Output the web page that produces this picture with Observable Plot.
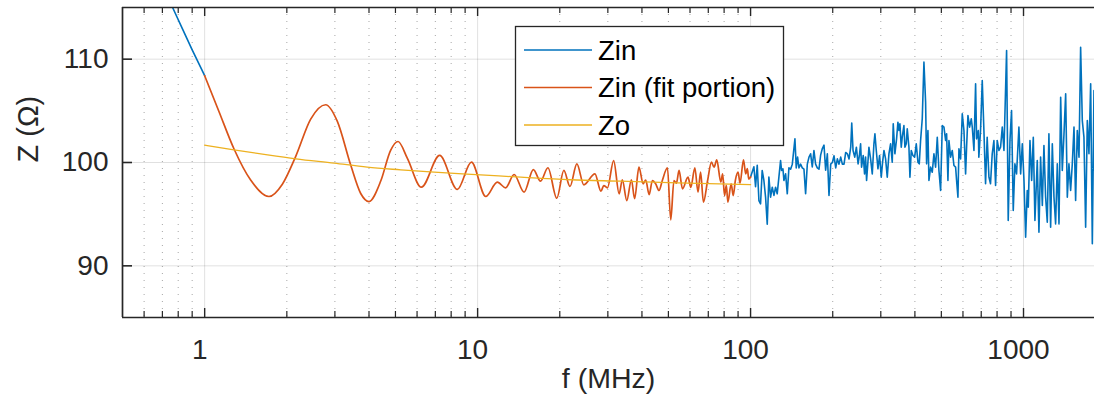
<!DOCTYPE html>
<html><head><meta charset="utf-8">
<script src="https://cdn.jsdelivr.net/npm/d3@7"></script>
<script src="https://cdn.jsdelivr.net/npm/@observablehq/plot@0.6"></script>
<style>html,body{margin:0;padding:0;background:#fff}svg{display:block}</style>
</head><body><div id="chart"></div>
<script>
// ---------- data ----------
const xMajor = [1, 10, 100, 1000];
const xMinor = [0.6,0.7,0.8,0.9, 2,3,4,5,6,7,8,9, 20,30,40,50,60,70,80,90, 200,300,400,500,600,700,800,900];
const yTicks = [90, 100, 110];
const xDomain = [0.5, 1820];
const yDomain = [85, 115];
const legendLabels = ["Zin", "Zin (fit portion)", "Zo"];
const xLabel = "f (MHz)";
const yLabel = "Z (\u03A9)";

// Zin below 1 MHz
const zinLowF = [0.5, 0.6, 0.7, 0.763, 0.83, 0.9, 1.0];
const zinLowV = [125.4, 120.9, 117.1, 115.0, 112.9, 110.9, 108.4];

// Zin fit portion 1..100 MHz
const fitF = [1.0,1.128,1.28,1.474,1.72,1.926,2.156,2.446,2.776,3.06,3.428,3.73,4.0,4.42,4.8,5.11,5.53,6.22,7.26,8.43,9.49,
  10.71,11.81,12.67,13.6,14.8,16.0,17.0,18.1,19.5,20.7,21.8,23.1,24.5,26.9,28.3,29.0,29.9,31.5,33.0,33.9,35.2,36.6,37.6,39.0,
  40.4,41.3,42.5,43.7,44.9,46.2,47.5,49.6,51.0,52.4,53.5,54.7,56.3,59.0,60.4,62.5,64.2,65.6,67.2,69.6,71.9,73.5,75.2,77.8,
  79.0,80.3,81.5,82.6,84.9,86.4,88.0,90.0,91.5,94.2,96.0,97.3,98.5,100];
const fitV = [108.4,104.94,101.33,98.3,96.71,97.9,100.6,104.2,105.59,104.0,99.75,97.0,96.22,98.23,101.17,102.03,100.4,97.61,100.68,97.39,100.03,
  96.71,98.1,97.55,98.84,97.13,99.32,98.19,99.49,96.54,99.23,97.68,99.87,97.84,98.9,97.22,97.77,97.55,100.19,96.97,98.33,96.32,98.33,96.49,99.55,
  97.94,98.3,96.9,98.26,97.94,97.29,98.26,99.49,94.45,98.26,98.0,99.23,97.45,98.58,97.6,99.49,97.13,99.06,96.16,98.26,100.03,99.55,100.26,98.1,
  98.9,96.8,97.8,96.16,97.94,96.8,98.3,99.06,98.0,100.26,98.9,99.4,98.4,98.6];

// Zin above 100 MHz
const zinHighF = [102.85,104.3,105.8,107.3,108.8,110.3,111.9,113.5,115.1,116.7,118.4,120.1,121.8,123.5,125.2,127.0,128.8,129.9,131.4,132.5,
  134.4,136.3,138.2,140.2,142.2,145.4,147.0,148.7,150.4,152.5,154.7,156.9,159.1,161.4,163.7,166.0,168.3,170.7,173.1,175.6,178.1,180.6,
  183.2,185.8,188.4,191.1,193.8,196.6,199.4,202.2,205.1,208.0,210.9,213.9,216.9,220.0,223.1,226.3,229.5,232.8,234.8,237.4,240.8,244.2,
  247.7,250.5,253.0,255.1,258.7,261.6,263.9,266.1,269.1,271.4,275.3,279.2,283.1,285.5,288.8,292.9,297.0,301.2,304.6,308.1,312.4,316.8,
  321.3,325.8,330.4,333.2,337.9,342.7,346.6,349.5,352.5,356.5,359.5,364.6,367.7,371.9,375.0,380.4,383.6,387.9,393.4,399.1,404.6,410.4,
  415.0,419.7,425.6,431.7,437.8,441.5,446.5,450.3,456.7,463.1,469.7,476.3,483.1,489.9,496.9,503.9,511.1,518.3,522.7,528.6,533.1,540.6,
  548.3,556.0,563.9,568.6,575.1,580.0,588.2,596.5,605.0,613.5,618.7,625.7,634.6,643.6,649.1,658.3,667.5,673,683,686,696,706,716,726,736,
  747,757,768,779,790,801,813,824,836,848,867,879,892,904,917,930,943,962,976,990,1004,1018,1032,1041,1056,1071,1086,1101,1123,1139,1155,
  1172,1188,1205,1222,1239,1257,1275,1293,1311,1330,1349,1368,1387,1407,1427,1447,1467,1488,1509,1531,1552,1574,1597,1619,1642,1665,1689,
  1713,1737,1762,1787,1812,1822];
const zinHighV = [99.58,97.65,99.74,96.32,96.0,99.23,98.26,96.65,94.03,98.58,96.65,97.61,96.81,97.61,96.97,98.58,100.19,99.23,99.39,98.26,
  98.9,96.97,99.48,99.35,99.84,102.29,99.48,100.52,99.48,99.84,99.48,99.35,96.97,99.84,100.52,100.84,99.58,101.16,99.84,99.48,99.35,100.71,
  101.35,101.68,99.26,100.84,96.81,99.84,100.0,100.65,99.48,100.35,99.84,100.52,99.84,99.84,100.97,100.84,100.35,101.48,103.81,101.16,100.52,101.48,
  99.87,100.68,101.81,99.55,100.68,98.9,100.52,98.26,100.03,101.48,100.35,98.9,101.81,102.77,101.16,99.39,100.68,98.58,100.03,101.16,100.35,98.58,
  100.84,101.81,100.03,103.74,100.84,102.29,103.9,103.1,103.74,101.48,102.45,103.58,101.48,101.81,103.26,101.48,98.58,101.16,100.68,100.52,101.81,100.03,
  99.87,102.13,104.23,109.71,105.84,99.87,103.1,98.26,99.55,99.06,100.84,99.55,102.45,99.23,97.29,103.58,103.42,102.13,102.77,98.26,102.13,100.52,
  101.16,99.71,99.55,98.26,96.65,101.32,100.35,104.71,103.1,98.9,101.48,104.55,103.42,104.23,103.42,101.16,107.61,102.29,103.1,100.52,103.1,107.94,103.1,97.94,102.45,
  98.58,97.94,100.84,102.13,97.77,102.13,101.16,101.48,103.42,101.16,110.84,94.39,102.13,105.03,95.35,99.87,98.9,103.42,98.9,101.81,98.26,92.77,97.29,95.68,102.13,98.26,102.45,94.39,100.19,93.26,100.52,
  95.84,101.65,96.65,94.23,102.77,93.74,101.81,96.65,94.06,99.87,94.06,106.32,99.23,102.77,106.65,96.65,99.87,97.29,99.87,103.42,96.32,103.1,100.52,111.16,104.06,102.45,93.74,
  104.06,100.84,107.61,92.13,106.97,99.23];

// Zo fit
const zoF = [1, 1.28, 1.7, 2.16, 2.98, 3.94, 5.23, 6.93, 10.26, 14.4, 21.9, 33.4, 53.9, 100];
const zoV = [101.68, 101.23, 100.74, 100.36, 99.94, 99.55, 99.29, 99.06, 98.81, 98.58, 98.33, 98.19, 98.03, 97.86];

// ---------- layout / style ----------
const W = 1094, H = 414, mL = 122, mR = 0, mT = 7, mB = 97;
const frameH = H - mT - mB, frameW = W - mL - mR;
const font = "'Liberation Sans', Arial, Helvetica, sans-serif";
const ink = "#262626";
const colors = ["#0072BD", "#D95319", "#EDB120"];

const rows = (F, V) => F.map((f, i) => ({f, v: V[i]}));
const lowRows = rows(zinLowF, zinLowV);
const fitRows = rows(fitF, fitV);
const highRows = rows(zinHighF, zinHighV);
const zoRows = rows(zoF, zoV);
// Zin continues through the fit portion (hidden under it): join at the ends of the fit data
const zinA = lowRows.concat([fitRows[0]]);
const zinB = [fitRows[fitRows.length - 1]].concat(highRows);

const plot = Plot.plot({
  width: W, height: H,
  marginLeft: mL, marginRight: mR, marginTop: mT, marginBottom: mB,
  style: {fontFamily: font, background: "#fff", overflow: "visible", color: ink},
  x: {type: "log", domain: xDomain},
  y: {domain: yDomain},
  marks: [
    Plot.ruleX(xMinor, {stroke: "#000", strokeOpacity: 0.35, strokeDasharray: "1,6", strokeWidth: 1}),
    Plot.ruleX(xMajor, {stroke: "#000", strokeOpacity: 0.12, strokeWidth: 1}),
    Plot.ruleY(yTicks, {stroke: "#000", strokeOpacity: 0.12, strokeWidth: 1}),
    Plot.line(zinA, {x: "f", y: "v", stroke: colors[0], strokeWidth: 1.6, clip: true}),
    Plot.line(zinB, {x: "f", y: "v", stroke: colors[0], strokeWidth: 1.6, clip: true}),
    Plot.line(fitRows, {x: "f", y: "v", stroke: colors[1], strokeWidth: 1.7, curve: "monotone-x", clip: true}),
    Plot.line(zoRows, {x: "f", y: "v", stroke: colors[2], strokeWidth: 1.3, curve: "monotone-x", clip: true}),
    // inward ticks
    Plot.tickX(xMinor, {x: d => d, insetTop: frameH - 6, stroke: ink, strokeWidth: 1.2}),
    Plot.tickX(xMajor, {x: d => d, insetTop: frameH - 9, stroke: ink, strokeWidth: 1.4}),
    Plot.tickX(xMinor, {x: d => d, insetBottom: frameH - 6, stroke: ink, strokeWidth: 1.2}),
    Plot.tickX(xMajor, {x: d => d, insetBottom: frameH - 9, stroke: ink, strokeWidth: 1.4}),
    Plot.tickY(yTicks, {y: d => d, insetRight: frameW - 10, stroke: ink, strokeWidth: 1.6}),
    // box lines
    Plot.ruleY([yDomain[0]], {stroke: ink, strokeWidth: 1.7}),
    Plot.ruleY([yDomain[1]], {stroke: ink, strokeWidth: 1.7}),
    Plot.ruleX([xDomain[0]], {stroke: ink, strokeWidth: 1.7}),
    // axes
    Plot.axisX({ticks: xMajor, tickSize: 0, tickPadding: 22, fontSize: 28, dx: -5, tickFormat: d => String(d), label: null, fill: ink}),
    Plot.axisY({ticks: yTicks, tickSize: 0, tickPadding: 14, fontSize: 28, tickFormat: d => String(d), label: null, fill: ink}),
    Plot.text([xLabel], {frameAnchor: "bottom", text: d => d, dy: 70, fontSize: 28.5, fill: ink}),
    Plot.text([yLabel], {frameAnchor: "left", text: d => d, rotate: -90, dx: -94, fontSize: 29, fill: ink})
  ]
});

// legend box
const svg = d3.select(plot);
const lg = svg.append("g").attr("font-family", font).attr("text-anchor", "start");
lg.append("rect").attr("x", 515.5).attr("y", 26.5).attr("width", 268).attr("height", 119)
  .attr("fill", "#fff").attr("stroke", ink).attr("stroke-width", 1.3);
legendLabels.forEach((t, i) => {
  const y = 50 + i * 37.5;
  lg.append("line").attr("x1", 524).attr("x2", 592).attr("y1", y).attr("y2", y)
    .attr("stroke", colors[i]).attr("stroke-width", i === 2 ? 1.3 : 1.6);
  lg.append("text").attr("x", 598).attr("y", y).attr("dy", "0.35em").attr("font-size", 27.5)
    .attr("text-anchor", "start").attr("fill", "#000").text(t);
});

document.getElementById("chart").appendChild(plot);
</script>
</body></html>
